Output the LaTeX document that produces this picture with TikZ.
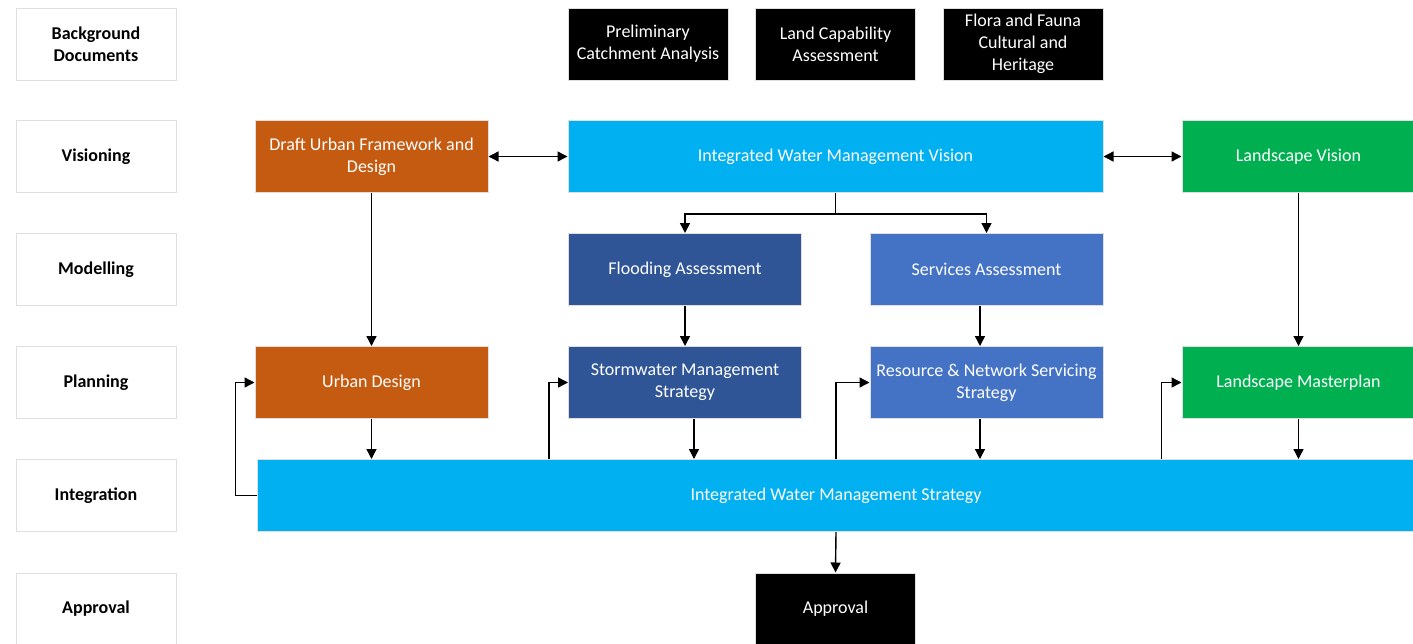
\documentclass[tikz,border=0pt]{standalone}
\usepackage{fontspec}
\setmainfont{Carlito}
\usetikzlibrary{arrows.meta}

\definecolor{urbanorange}{HTML}{C55A11}
\definecolor{waterblue}{HTML}{00B0F0}
\definecolor{floodblue}{HTML}{2F5597}
\definecolor{serviceblue}{HTML}{4472C4}
\definecolor{landgreen}{HTML}{00B050}

\begin{document}
\begin{tikzpicture}[x=0.5pt, y=-0.5pt]
    \tikzset{box/.style={draw=gray!25, line width=0.5pt, minimum height=36pt, inner sep=2pt,
                         align=center, text=white, font=\fontsize{9}{11}\selectfont},
             stage/.style={box, fill=white, text=black, minimum width=80pt,
                           font=\fontsize{9}{11}\selectfont\bfseries},
             doc/.style={box, fill=black, minimum width=80pt},
             colbox/.style={box, minimum width=116.5pt},
             flow/.style={-{Triangle[length=5pt, width=5pt]}, line width=0.7pt},
             both/.style={{Triangle[length=5pt, width=5pt]}-{Triangle[length=5pt, width=5pt]}, line width=0.7pt}}
    \useasboundingbox (0,0) rectangle (1413,643);
    % stages
    \node[stage] (sBack) at (96,44) {Background\\Documents};
    \node[stage] (sVis) at (96,156.5) {Visioning};
    \node[stage] (sMod) at (96,269.5) {Modelling};
    \node[stage] (sPlan) at (96,382.5) {Planning};
    \node[stage] (sInt) at (96,495.5) {Integration};
    \node[stage] (sAppr) at (96,609) {Approval};
    % background documents
    \node[doc] (prelim) at (648,44) {Preliminary\\Catchment Analysis};
    \node[doc] (landcap) at (835.5,44) {Land Capability\\Assessment};
    \node[doc] (flora) at (1023,44) {Flora and Fauna\\Cultural and\\Heritage};
    % visioning
    \node[colbox, fill=urbanorange] (draft) at (371.5,156.5) {Draft Urban Framework and\\Design};
    \node[box, fill=waterblue, minimum width=267.5pt] (vision) at (835.5,156.5) {Integrated Water Management Vision};
    \node[colbox, fill=landgreen] (landvis) at (1298.5,156.5) {Landscape Vision};
    % modelling
    \node[colbox, fill=floodblue] (flood) at (685,269.5) {Flooding Assessment};
    \node[colbox, fill=serviceblue] (serv) at (986.5,269.5) {Services Assessment};
    % planning
    \node[colbox, fill=urbanorange] (urban) at (371.5,382.5) {Urban Design};
    \node[colbox, fill=floodblue] (storm) at (685,382.5) {Stormwater Management\\Strategy};
    \node[colbox, fill=serviceblue] (res) at (986.5,382.5) {Resource \& Network Servicing\\Strategy};
    \node[colbox, fill=landgreen] (landmp) at (1298.5,382.5) {Landscape Masterplan};
    % integration and approval
    \node[box, fill=waterblue, minimum width=579pt] (iwms) at (836,495.5) {Integrated Water Management Strategy};
    \node[doc] (appr) at (835.5,609) {Approval};

    \coordinate (split) at ([yshift=-10.5pt]vision.south);
    \coordinate (servOut) at ([xshift=-3.25pt]serv.south);
    \coordinate (stormOut) at ([xshift=4.5pt]storm.south);
    \coordinate (resOut) at ([xshift=-3.25pt]res.south);
    \coordinate (stormBack) at ([xshift=-9.5pt]storm.west);
    \coordinate (landBack) at ([xshift=-10pt]landmp.west);

    \draw[both] (draft.east) -- (vision.west);
    \draw[both] (vision.east) -- (landvis.west);
    \draw[line width=0.7pt] (vision.south) -- (split);
    \draw[flow] (split) -| (flood.north);
    \draw[flow] (split) -| (serv.north);
    \draw[flow] (draft.south) -- (urban.north);
    \draw[flow] (flood.south) -- (storm.north);
    \draw[flow] (servOut) -- (servOut |- res.north);
    \draw[flow] (landvis.south) -- (landmp.north);
    \draw[flow] (urban.south) -- (urban.south |- iwms.north);
    \draw[flow] (stormOut) -- (stormOut |- iwms.north);
    \draw[flow] (resOut) -- (resOut |- iwms.north);
    \draw[flow] (landmp.south) -- (landmp.south |- iwms.north);
    \draw[flow] (iwms.west) -| ([xshift=-9.5pt]urban.west) -- (urban.west);
    \draw[flow] (stormBack |- iwms.north) |- (storm.west);
    \draw[flow] (iwms.north) |- (res.west);
    \draw[flow] (landBack |- iwms.north) |- (landmp.west);
    \draw[flow] (iwms.south) -- (appr.north);
\end{tikzpicture}
\end{document}
